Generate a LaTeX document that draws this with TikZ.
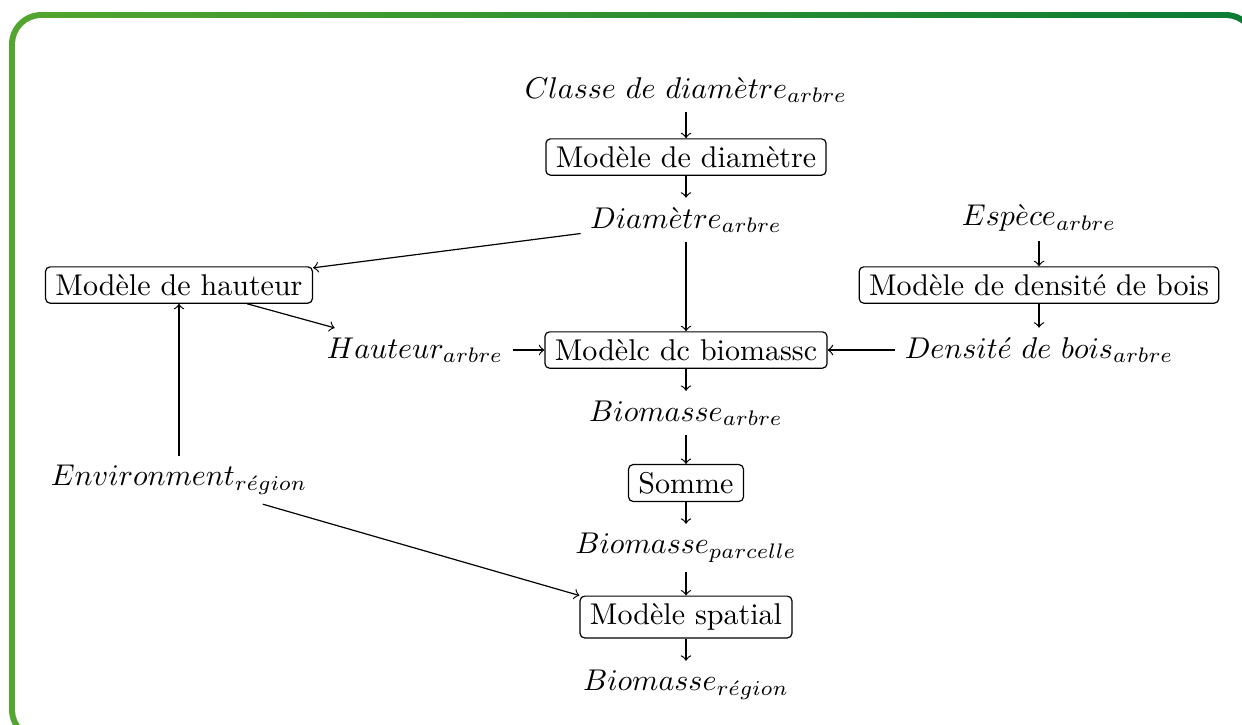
\documentclass[tikz,border=0pt]{standalone}
\usepackage{tikz}

\definecolor{borderleft}{RGB}{84,166,46}
\definecolor{borderright}{RGB}{10,122,52}

\begin{document}
\begin{tikzpicture}[x=0.0117cm, y=-0.0117cm, >=to,
	box/.style={draw, rounded corners=1.5pt, inner xsep=3.3pt, inner ysep=2.5pt},
	var/.style={inner sep=3pt}]
	\def\colx{686}

	\useasboundingbox (0,0) rectangle (1242,724);

	% green frame
	\begin{scope}
		\clip[rounded corners=0.38cm] (9,12) rectangle (1258,742);
		\shade[left color=borderleft, right color=borderright] (0,0) rectangle (1260,742);
	\end{scope}
	\fill[white, rounded corners=0.31cm] (15,18) rectangle (1252,736);

	\node[var] (classe) at (\colx,90) {$Classe\ de\ diam\grave{e}tre_{arbre}$};
	\node[box] (mdiam) at (\colx,157) {Modèle de diamètre};
	\node[var] (diam) at (\colx,220) {$Diam\grave{e}tre_{arbre}$};

	\node[box] (mhaut) at (179,285) {Modèle de hauteur};
	\node[var] (haut) at (415,350) {$Hauteur_{arbre}$};
	\node[var] (env) at (179,480) {$Environment_{r\acute{e}gion}$};

	\node[var] (espece) at (1039,218) {$Esp\grave{e}ce_{arbre}$};
	\node[box] (mdens) at (1039,285) {Modèle de densité de bois};
	\node[var] (dens) at (1039,350) {$Densit\acute{e}\ de\ bois_{arbre}$};

	\node[box] (mbio) at (\colx,350) {Modèlc dc biomassc};
	\node[var] (bioarbre) at (\colx,413) {$Biomasse_{arbre}$};
	\node[box] (somme) at (\colx,483) {Somme};
	\node[var] (bioparc) at (\colx,548) {$Biomasse_{parcelle}$};
	\node[box] (mspat) at (\colx,617) {Modèle spatial};
	\node[var] (bioreg) at (\colx,685) {$Biomasse_{r\acute{e}gion}$};

	\draw [->] (classe) -- (mdiam);
	\draw [->] (mdiam) -- (diam);
	\draw [->] (diam) -- (mhaut);
	\draw [->] (diam) -- (mbio);
	\draw [->] (mhaut) -- (haut);
	\draw [->] (haut) -- (mbio);
	\draw [->] (espece) -- (mdens);
	\draw [->] (mdens) -- (dens);
	\draw [->] (dens) -- (mbio);
	\draw [->] (env) -- (mhaut);
	\draw [->] (env) -- (mspat.north west);

	\draw [->] (mbio) -- (bioarbre);
	\draw [->] (bioarbre) -- (somme);
	\draw [->] (somme) -- (bioparc);
	\draw [->] (bioparc) -- (mspat);
	\draw [->] (mspat) -- (bioreg);
\end{tikzpicture}
\end{document}
